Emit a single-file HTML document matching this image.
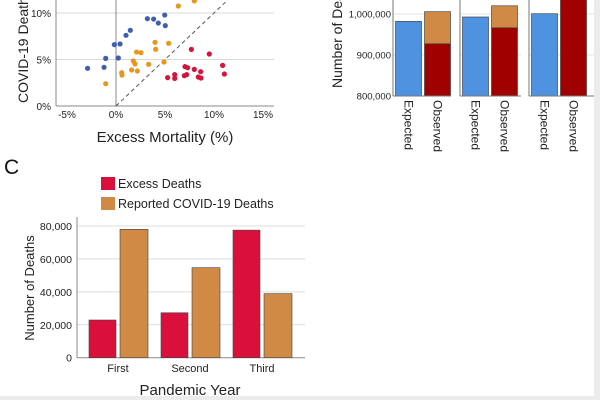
<!DOCTYPE html>
<html><head><meta charset="utf-8"><style>
html,body{margin:0;padding:0;background:#fff;}
svg{display:block;font-family:"Liberation Sans",sans-serif;}
</style></head><body>
<svg width="600" height="400" viewBox="0 0 600 400">
<rect x="0" y="0" width="600" height="400" fill="#fff"/>
<rect x="594" y="0" width="6" height="400" fill="#ececec"/>
<rect x="0" y="396" width="600" height="4" fill="#ececec"/>
<g id="pa"></g>
<g id="pb"></g>
<g id="pc"></g>
</svg>
<script>
// Panel A data (percent)
const blueX=[-2.9,-1.22,-1.05,-0.17,0.41,0.24,1.02,1.46,3.2,3.84,4.32,4.97,5.03];
const blueY=[4.05,4.16,5.12,6.6,6.67,5.16,7.6,8.14,9.39,9.35,8.92,9.78,8.64];
const orangeX=[-1.05,0.58,0.61,1.6,1.77,1.94,2.18,2.1,2.55,3.33,3.98,4.05,4.9,5.37,6.36,7.99];
const orangeY=[2.4,3.58,3.33,3.87,4.84,4.52,3.76,5.8,5.73,4.48,6.85,6.1,4.73,6.74,10.75,11.3];
const redX=[5.27,5.99,5.99,7.69,9.52,10.88,11.06,7.04,7.31,6.97,7.21,7.99,8.64,8.4,8.67];
const redY=[3.05,3.37,2.97,6.09,5.59,4.37,3.44,4.23,4.12,3.26,3.37,3.94,3.69,3.12,3.01];
const aXTicks=[-5,0,5,10,15];
const aYTicks=[0,5,10];
// Panel B data
const bGroups=["Expected","Observed"];
const bExpected=[982000,992700,1000700];
const bObservedRed=[927000,966000,1060000];
const bObservedTotal=[1005600,1020000,1060000];
const bYTicks=[800000,900000,1000000];
// Panel C data
const cCats=["First","Second","Third"];
const cExcess=[22900,27300,77500];
const cReported=[78000,54700,38900];
const cYTicks=[0,20000,40000,60000,80000];

const NS="http://www.w3.org/2000/svg";
function mk(p,t,a,txt){const e=document.createElementNS(NS,t);for(const k in a)e.setAttribute(k,a[k]);if(txt!==undefined)e.textContent=txt;p.appendChild(e);return e;}

// ---- Panel A
const pa=document.getElementById('pa');
const ax=v=>116+v*9.8, ay=v=>106-v*9.3;
aYTicks.forEach(t=>{
  if(t>0){const g=mk(pa,'line',{x1:56,x2:274,y1:ay(t),y2:ay(t),stroke:'#d8d8d8','stroke-width':1});
  
  }
  const l=mk(pa,'text',{x:51,y:ay(t)+4,'font-size':10,'text-anchor':'end',fill:'#222'},t+'%');
  
  
});
aXTicks.forEach(t=>{
  const l=mk(pa,'text',{x:ax(t),y:118,'font-size':10,'text-anchor':'middle',fill:'#222'},t+'%');
  
  
});
let e=mk(pa,'line',{x1:56,x2:56,y1:0,y2:106,stroke:'#888'});
e=mk(pa,'line',{x1:56,x2:274,y1:106,y2:106,stroke:'#888'});
e=mk(pa,'line',{x1:ax(0),x2:ax(0),y1:0,y2:106,stroke:'#888'});
e=mk(pa,'line',{x1:ax(0),y1:ay(0),x2:ax(12),y2:ay(12),stroke:'#555','stroke-dasharray':'4,3'});
[[blueX,blueY,'#3f5fae','blue-point'],[orangeX,orangeY,'#e8961e','orange-point'],[redX,redY,'#d3143c','red-point']].forEach(s=>{
  s[0].forEach((x,i)=>{const c=mk(pa,'circle',{cx:ax(x),cy:ay(s[1][i]),r:2.6,fill:s[2]});
  
  });
});
e=mk(pa,'text',{x:165,y:142,'font-size':15,'text-anchor':'middle',fill:'#222'},'Excess Mortality (%)');
e=mk(pa,'text',{x:0,y:0,'font-size':14,'text-anchor':'start',fill:'#222',transform:'translate(28,103) rotate(-90)'},'COVID-19 Death Rate (%)');

// ---- Panel B
const pb=document.getElementById('pb');
const by=v=>96-(v-800000)/100000*41;
const panels=[393,460,529], panelW=[58,61,65];
bYTicks.forEach(t=>{
  const l=mk(pb,'text',{x:391,y:by(t)+3.5,'font-size':9.5,'text-anchor':'end',fill:'#222'},t.toLocaleString('en-US'));
  
  
  panels.forEach((px,i)=>{const g=mk(pb,'line',{x1:px,x2:px+panelW[i],y1:by(t),y2:by(t),stroke:'#e0e0e0'});
  
  });
});
panels.forEach((px,i)=>{
  const x0=px+2.5;
  let r=mk(pb,'rect',{x:x0,y:by(bExpected[i]),width:26,height:96-by(bExpected[i]),fill:'#4f93e0',stroke:'#333','stroke-width':0.6});
  
  
  r=mk(pb,'rect',{x:x0+29,y:by(bObservedTotal[i]),width:26,height:by(bObservedRed[i])-by(bObservedTotal[i]),fill:'#d08a45',stroke:'#333','stroke-width':0.6});
  
  
  r=mk(pb,'rect',{x:x0+29,y:by(bObservedRed[i]),width:26,height:96-by(bObservedRed[i]),fill:'#a00000',stroke:'#333','stroke-width':0.6});
  
  
  let a=mk(pb,'line',{x1:px,x2:px,y1:0,y2:96,stroke:'#777'});
  a=mk(pb,'line',{x1:px,x2:px+panelW[i],y1:96,y2:96,stroke:'#777'});
  bGroups.forEach((g,j)=>{const t=mk(pb,'text',{x:0,y:0,'font-size':12,fill:'#222',transform:`translate(${x0+9+j*29},100) rotate(90)`},g);
  
  });
});
e=mk(pb,'text',{x:0,y:0,'font-size':14,fill:'#222',transform:'translate(342,88) rotate(-90)'},'Number of Deaths');

// ---- Panel C
const pc=document.getElementById('pc');
const cy=v=>357.7-v/80000*131.7;
e=mk(pc,'text',{x:4,y:174,'font-size':21,fill:'#111'},'C');
cYTicks.forEach(t=>{
  if(t>0){const g=mk(pc,'line',{x1:77,x2:305,y1:cy(t),y2:cy(t),stroke:'#dcdcdc'});
  
  }
  const l=mk(pc,'text',{x:72,y:cy(t)+4,'font-size':10.5,'text-anchor':'end',fill:'#222'},t.toLocaleString('en-US'));
  
  
});
e=mk(pc,'line',{x1:77,x2:77,y1:217,y2:357.7,stroke:'#888'});
e=mk(pc,'line',{x1:77,x2:305,y1:357.7,y2:357.7,stroke:'#888'});
cCats.forEach((c,i)=>{
  const gx=89+i*72;
  let r=mk(pc,'rect',{x:gx,y:cy(cExcess[i]),width:27,height:357.7-cy(cExcess[i]),fill:'#d9103c',stroke:'#444','stroke-width':0.6});
  
  
  r=mk(pc,'rect',{x:gx+31,y:cy(cReported[i]),width:28,height:357.7-cy(cReported[i]),fill:'#d08a45',stroke:'#444','stroke-width':0.6});
  
  
  const t=mk(pc,'text',{x:gx+29,y:372,'font-size':11,'text-anchor':'middle',fill:'#222'},c);
  
  
});
e=mk(pc,'text',{x:190,y:395,'font-size':15,'text-anchor':'middle',fill:'#222'},'Pandemic Year');
e=mk(pc,'text',{x:0,y:0,'font-size':13,'text-anchor':'middle',fill:'#222',transform:'translate(34,288) rotate(-90)'},'Number of Deaths');
e=mk(pc,'rect',{x:101,y:177,width:14,height:13,fill:'#d9103c'});
e=mk(pc,'text',{x:118,y:188,'font-size':12.5,fill:'#222'},'Excess Deaths');
e=mk(pc,'rect',{x:101,y:197,width:14,height:13,fill:'#d08a45'});
e=mk(pc,'text',{x:118,y:208,'font-size':12.5,fill:'#222'},'Reported COVID-19 Deaths');
</script>
</body></html>
